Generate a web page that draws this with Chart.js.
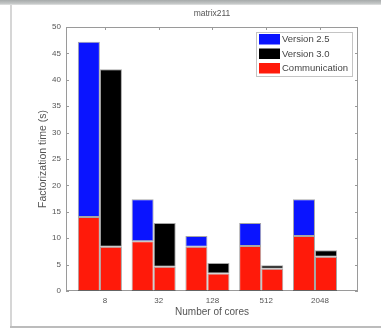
<!DOCTYPE html>
<html><head><meta charset="utf-8">
<script src="https://cdn.jsdelivr.net/npm/chart.js@4"></script>
<style>
html,body{margin:0;padding:0;background:#fff;width:381px;height:328px;overflow:hidden}
#wrap{position:absolute;left:0;top:0;width:381px;height:328px}
.topband{position:absolute;left:0;top:0;width:381px;height:5px;background:linear-gradient(#a6aaaa,#c4c7c7 70%,#e4e5e5)}
.lline{position:absolute;left:10px;top:5px;width:2px;height:322px;background:#d6d6d6}
.bline{position:absolute;left:10px;top:326px;width:371px;height:2px;background:#bcbcbc}
</style></head><body>
<div id="wrap"><canvas id="c" width="381" height="328"></canvas></div>
<div class="topband"></div><div class="lline"></div><div class="bline"></div>
<script>
const chartTitle = 'matrix211';
const cores = ['8', '32', '128', '512', '2048'];
const v25Total = [47.2, 17.4, 10.4, 12.9, 17.4];
const v25Comm  = [14.0, 9.4, 8.4, 8.5, 10.4];
const v30Total = [42.0, 12.9, 5.3, 4.9, 7.7];
const v30Comm  = [8.4, 4.6, 3.3, 4.2, 6.5];
const yTicks = [0, 5, 10, 15, 20, 25, 30, 35, 40, 45, 50];

const FONT = '"Liberation Sans", Arial, sans-serif';
const edge = 'rgba(0,0,0,0.35)';

function pts(arr) { return arr.map((v, i) => ({x: i + 1, y: v})); }
function diff(a, b) { return a.map((v, i) => +(v - b[i]).toFixed(2)); }

const datasets = [
  {label: 'Communication', data: pts(v25Comm), stack: 'v25', backgroundColor: '#ff1a0a'},
  {label: 'Version 2.5', data: pts(diff(v25Total, v25Comm)), stack: 'v25', backgroundColor: '#0a14ff'},
  {label: 'Communication', data: pts(v30Comm), stack: 'v30', backgroundColor: '#ff1a0a'},
  {label: 'Version 3.0', data: pts(diff(v30Total, v30Comm)), stack: 'v30', backgroundColor: '#000000'}
];
const legendOrder = [1, 3, 0];
const LABEL_SHIFT = 5;

const framePlugin = {
  id: 'frame',
  beforeDatasetsDraw(chart) {
    const {ctx, chartArea: a, scales: {x, y}} = chart;
    ctx.save();
    ctx.strokeStyle = '#9a9a9a';
    ctx.lineWidth = 1;
    ctx.strokeRect(a.left + 0.5, a.top + 0.5, a.right - a.left - 1, a.bottom - a.top - 1);
    ctx.beginPath();
    y.ticks.forEach(t => {
      const py = Math.round(y.getPixelForValue(t.value)) + 0.5;
      ctx.moveTo(a.left, py); ctx.lineTo(a.left + 3, py);
      ctx.moveTo(a.right - 3, py); ctx.lineTo(a.right, py);
    });
    x.ticks.forEach(t => {
      const px = Math.round(x.getPixelForValue(t.value) + LABEL_SHIFT) + 0.5;
      ctx.moveTo(px, a.bottom); ctx.lineTo(px, a.bottom - 3);
      ctx.moveTo(px, a.top); ctx.lineTo(px, a.top + 3);
    });
    ctx.stroke();
    ctx.restore();
  },
  afterDatasetsDraw(chart) {
    const {ctx} = chart;
    const ds = chart.data.datasets;
    ctx.save();
    const bx = 256, by = 32, bw = 97, bh = 45;
    ctx.fillStyle = '#fff';
    ctx.fillRect(bx, by, bw, bh);
    ctx.strokeStyle = '#c4c4c4';
    ctx.lineWidth = 1;
    ctx.strokeRect(bx + 0.5, by + 0.5, bw - 1, bh - 1);
    ctx.font = '9.5px ' + FONT;
    ctx.textBaseline = 'middle';
    legendOrder.forEach((di, k) => {
      const cy = by + 7 + k * 14.5;
      ctx.fillStyle = ds[di].backgroundColor;
      ctx.fillRect(bx + 3, cy - 5, 21, 10.5);
      ctx.fillStyle = '#444';
      ctx.fillText(ds[di].label, bx + 26, cy + 0.5);
    });
    ctx.restore();
  }
};

new Chart(document.getElementById('c'), {
  type: 'bar',
  data: {datasets},
  options: {
    responsive: false,
    animation: false,
    devicePixelRatio: 1,
    layout: {padding: {left: 0, right: 23, top: 0, bottom: 0}},
    datasets: {bar: {categoryPercentage: 0.82, barPercentage: 1, borderWidth: 1, borderColor: edge, borderSkipped: false}},
    plugins: {legend: {display: false}, tooltip: {enabled: false}, title: {display: false}},
    scales: {
      x: {
        type: 'linear', min: 0.37, max: 5.8, offset: false,
        grid: {display: false, drawTicks: false}, border: {display: false},
        ticks: {stepSize: 1, includeBounds: false, autoSkip: false, maxRotation: 0, padding: 5,
                labelOffset: LABEL_SHIFT, color: '#555', font: {family: FONT, size: 8},
                callback: (v) => cores[v - 1] ?? ''},
        title: {display: true, text: 'Number of cores', color: '#555', font: {family: FONT, size: 10}, padding: {top: 0, bottom: 10}},
        afterFit(s) { s.height = 37; }
      },
      x2: {
        type: 'linear', position: 'top', min: 0, max: 1,
        grid: {display: false, drawTicks: false}, border: {display: false},
        ticks: {display: false},
        title: {display: true, text: chartTitle, color: '#555', font: {family: FONT, size: 8.5}, padding: {top: 9, bottom: 0}},
        afterFit(s) { s.height = 27; }
      },
      y: {
        stacked: true, min: 0, max: 50,
        grid: {display: false, drawTicks: false}, border: {display: false},
        afterBuildTicks(s) { s.ticks = yTicks.map(v => ({value: v})); },
        ticks: {padding: 5, color: '#555', font: {family: FONT, size: 8}},
        title: {display: true, text: 'Factorization time (s)', color: '#555', font: {family: FONT, size: 10.5}, padding: {top: 37, bottom: 0}},
        afterFit(s) { s.width = 66; }
      }
    }
  },
  plugins: [framePlugin]
});
</script>
</body></html>
